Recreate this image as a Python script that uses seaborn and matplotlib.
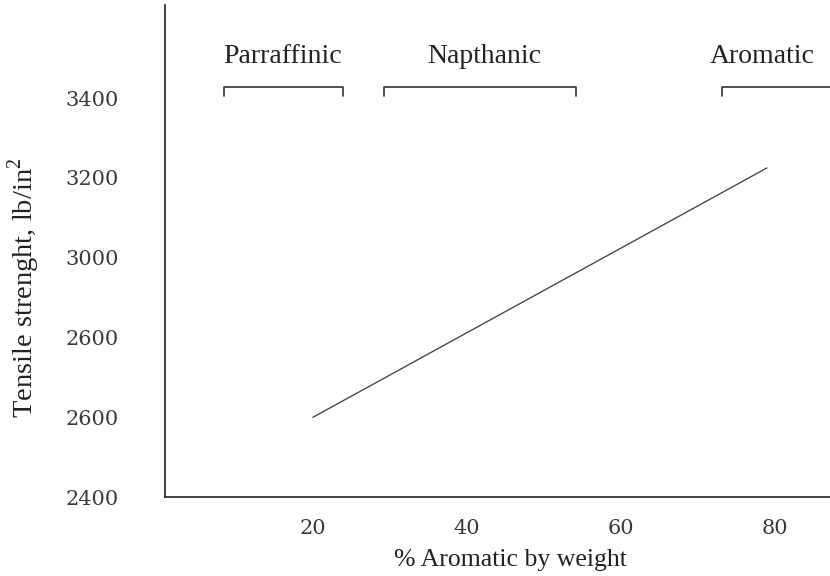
import matplotlib
matplotlib.use("Agg")
import matplotlib.pyplot as plt
import seaborn as sns
import pandas as pd

# Data
pct_aromatic = [20, 79]
tensile = [2600, 3225]
ytick_vals = [2400, 2600, 2800, 3000, 3200, 3400]
ytick_labels = ["2400", "2600", "2600", "3000", "3200", "3400"]
xtick_vals = [20, 40, 60, 80]
xtick_labels = ["20", "40", "60", "80"]
categories = ["Parraffinic", "Napthanic", "Aromatic"]
cat_start = [8.5, 29.2, 73.1]
cat_end = [23.9, 54.2, 90.0]
cat_label_x = [16.0, 42.3, 78.4]

sns.set_theme(style="white")
plt.rcParams["font.family"] = ["Liberation Serif", "DejaVu Serif"]
plt.rcParams["mathtext.fontset"] = "custom"
plt.rcParams["mathtext.rm"] = "Liberation Serif"

fig = plt.figure(figsize=(8.3, 5.76), dpi=100)
ax = fig.add_axes([0.199, 0.137, 0.801, 0.854])

df = pd.DataFrame({"x": pct_aromatic, "y": tensile})
sns.lineplot(data=df, x="x", y="y", ax=ax, color="#4a4a4a", linewidth=1.0)

ax.set_xlim(0.8, 87.2)
ax.set_ylim(2400, 3633)

ax.set_xticks(xtick_vals)
ax.set_xticklabels(xtick_labels, fontsize=15, color="#3a3a3a", family="DejaVu Serif")
ax.set_yticks(ytick_vals)
ax.set_yticklabels(ytick_labels, fontsize=15, color="#3a3a3a", family="DejaVu Serif")
ax.tick_params(axis="x", direction="in", length=5, width=1, color="#333333", pad=16)
ax.tick_params(axis="y", direction="inout", length=6, width=1, color="#333333", pad=30.5)

for s in ["top", "right"]:
    ax.spines[s].set_visible(False)
for s in ["left", "bottom"]:
    ax.spines[s].set_color("#222222")
    ax.spines[s].set_linewidth(1.2)

ax.set_xlabel("% Aromatic by weight", fontsize=18.5, color="#222222")
ax.xaxis.set_label_coords(0.52, -0.105)
ax.set_ylabel("Tensile strenght, lb/in$^2$", fontsize=20.5, color="#222222")
ax.yaxis.set_label_coords(-0.186, 0.425)

# Category brackets
br_y = 3428
drop = 22
for name, a, b, lx in zip(categories, cat_start, cat_end, cat_label_x):
    ax.plot([a, a, b, b], [br_y - drop, br_y, br_y, br_y - drop],
            color="#333333", linewidth=1.2, clip_on=False)
    ax.text(lx, 3505, name, ha="center", va="center", fontsize=20, color="#222222")

fig.savefig("out.png", dpi=100, facecolor="white")
